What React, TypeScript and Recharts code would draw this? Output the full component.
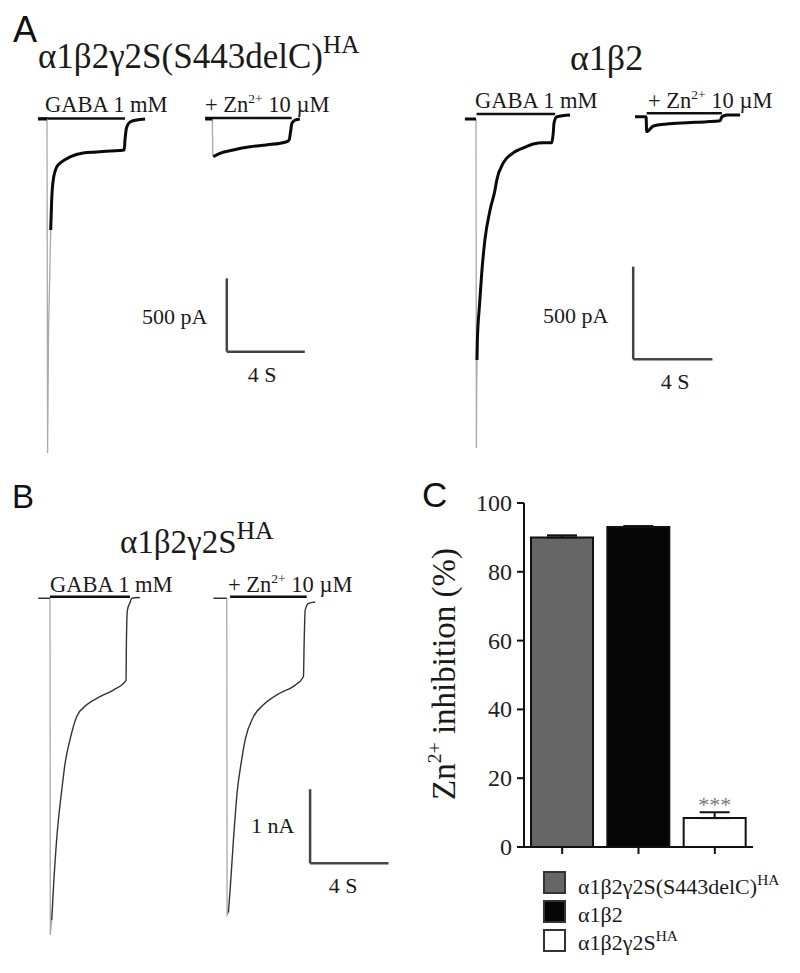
import React from "react";
import {
  LineChart,
  Line,
  XAxis,
  YAxis,
  ReferenceLine,
  BarChart,
  Bar,
  Cell,
  ErrorBar,
  LabelList,
} from "recharts";

const SERIF = '"Liberation Serif", "Times New Roman", serif';
const SANS = '"Liberation Sans", Arial, sans-serif';

// ---------- traces: t = seconds from agonist onset, i = current from baseline ----------
// panel A, α1β2γ2S(S443delC)HA (pA)
const delcGabaFast = [
  { t: 0, i: 0 }, { t: 0.03, i: -2278 }, { t: 0.08, i: -1440 }, { t: 0.19, i: -757 },
];
const delcGaba = [
  { t: -0.46, i: 0 }, { t: 0, i: 0 }, { t: 0.1, i: null }, { t: 0.19, i: -757 },
  { t: 0.24, i: -552 }, { t: 0.32, i: -416 }, { t: 0.5, i: -327 }, { t: 0.75, i: -293 },
  { t: 1.18, i: -259 }, { t: 1.85, i: -232 }, { t: 2.55, i: -225 }, { t: 3.23, i: -218 },
  { t: 3.96, i: -211 }, { t: 4.0, i: -143 }, { t: 4.09, i: -55 }, { t: 4.26, i: -20 },
  { t: 4.6, i: -7 }, { t: 5.03, i: 0 },
];
const delcZnFast = [{ t: 0, i: 0 }, { t: 0.02, i: -246 }, { t: 0.05, i: -257 }];
const delcZn = [
  { t: -0.37, i: 0 }, { t: 0, i: 0 }, { t: 0.01, i: null }, { t: 0.05, i: -257 },
  { t: 0.39, i: -234 }, { t: 1.07, i: -211 }, { t: 1.93, i: -189 }, { t: 2.78, i: -177 },
  { t: 3.81, i: -155 }, { t: 3.94, i: -143 }, { t: 4.01, i: -87 }, { t: 4.08, i: -29 },
  { t: 4.24, i: -7 }, { t: 4.49, i: 0 },
];

// panel A, α1β2 (pA)
const abGabaFast = [{ t: 0, i: 0 }, { t: 0.02, i: -1774 }, { t: 0.03, i: -1516 }, { t: 0.05, i: -1300 }];
const abGaba = [
  { t: -0.56, i: 0 }, { t: 0, i: 0 }, { t: 0.01, i: null }, { t: 0.05, i: -1300 },
  { t: 0.07, i: -1192 }, { t: 0.17, i: -1014 }, { t: 0.29, i: -830 }, { t: 0.45, i: -652 },
  { t: 0.71, i: -491 }, { t: 0.96, i: -383 }, { t: 1.05, i: -329 }, { t: 1.38, i: -237 },
  { t: 1.88, i: -183 }, { t: 2.39, i: -156 }, { t: 2.89, i: -135 }, { t: 3.4, i: -128 },
  { t: 3.82, i: -128 }, { t: 3.9, i: -77 }, { t: 3.94, i: -22 }, { t: 4.08, i: 12 }, { t: 4.75, i: 22 },
];
const abZn = [
  { t: -0.56, i: 12 }, { t: 0, i: 12 }, { t: 0.03, i: -68 }, { t: 0.37, i: -38 },
  { t: 1.04, i: -27 }, { t: 2.06, i: -20 }, { t: 3.07, i: -15 }, { t: 3.74, i: -9 },
  { t: 3.83, i: 12 }, { t: 4.08, i: 22 }, { t: 4.75, i: 22 },
];

// panel B, α1β2γ2SHA (nA)
const wtGabaFast = [{ t: 0, i: 0 }, { t: 0.015, i: -4.55 }, { t: 0.087, i: -4.35 }];
const wtGaba = [
  { t: -0.6, i: 0 }, { t: 0, i: 0 }, { t: 0.01, i: null }, { t: 0.087, i: -4.35 },
  { t: 0.17, i: -3.94 }, { t: 0.34, i: -3.26 }, { t: 0.6, i: -2.59 }, { t: 0.77, i: -2.23 },
  { t: 1.02, i: -1.91 }, { t: 1.36, i: -1.6 }, { t: 1.87, i: -1.44 }, { t: 2.55, i: -1.33 },
  { t: 3.23, i: -1.24 }, { t: 3.88, i: -1.11 }, { t: 3.9, i: -0.56 }, { t: 3.95, i: -0.16 },
  { t: 4.08, i: -0.06 }, { t: 4.17, i: 0 }, { t: 4.59, i: 0.01 },
];
const wtZnFast = [{ t: 0, i: 0 }, { t: 0.015, i: -4.28 }, { t: 0.08, i: -4.25 }];
const wtZn = [
  { t: -0.68, i: 0 }, { t: 0, i: 0 }, { t: 0.01, i: null }, { t: 0.08, i: -4.25 },
  { t: 0.17, i: -3.94 }, { t: 0.34, i: -3.26 }, { t: 0.54, i: -2.59 }, { t: 0.73, i: -2.23 },
  { t: 0.94, i: -1.91 }, { t: 1.36, i: -1.6 }, { t: 1.87, i: -1.44 }, { t: 2.72, i: -1.28 },
  { t: 3.4, i: -1.19 }, { t: 3.91, i: -1.06 }, { t: 3.95, i: -0.56 }, { t: 4.0, i: -0.16 },
  { t: 4.17, i: -0.07 }, { t: 4.51, i: -0.05 },
];

// drug application bars [start, end, level]
const delcApps = [[-0.46, 4.0, 3], [-0.37, 4.07, 7]];
const abApps = [[0.03, 4.0, 27], [0.03, 3.83, 31]];
const wtApps = [[0, 4.08, 0.02], [0.17, 4.08, 0.02]];

// ---------- panel C ----------
const genotypes = ["α1β2γ2S(S443delC)^HA", "α1β2", "α1β2γ2S^HA"];
const inhibition = [90.0, 93.0, 8.4];
const sem = [0.6, 0.3, 1.7];
const significance = ["", "", "***"];
const barFills = ["#666666", "#050505", "#ffffff"];
const yTicks = [0, 20, 40, 60, 80, 100];

const barData = genotypes.map((g, k) => ({
  name: g,
  value: inhibition[k],
  err: [0, sem[k]],
  sig: significance[k],
}));

function SupText({ x, y, text, size, anchor = "start", fill = "#1a1a1a", family = SERIF, supScale = 0.6, rise = 0.42, ...rest }) {
  const parts = text.split("^");
  const r = size * rise;
  return (
    <text x={x} y={y} fontSize={size} fontFamily={family} textAnchor={anchor} fill={fill} {...rest}>
      {parts.map((p, k) =>
        k % 2 === 1 ? (
          <tspan key={k} dy={-r} fontSize={size * supScale}>{p}</tspan>
        ) : (
          <tspan key={k} dy={k > 0 ? r : 0}>{p}</tspan>
        )
      )}
    </text>
  );
}

function YTick({ x, y, payload }) {
  return (
    <text x={x} y={y} dy={8} textAnchor="end" fontSize={24} fontFamily={SERIF} fill="#222">
      {payload.value}
    </text>
  );
}

function TracePanel({ box, x0, y0, pxPerSec, pxPerUnit, znOffset, traces, apps, scaleBar, thick }) {
  const xDomain = [(box.left - x0) / pxPerSec, (box.left + box.width - x0) / pxPerSec];
  const yDomain = [-(box.top + box.height - y0) / pxPerUnit, (y0 - box.top) / pxPerUnit];
  const shift = (arr, off) => arr.map((p) => ({ t: p.t + off, i: p.i }));
  const offsets = [0, znOffset];
  return (
    <div style={{ position: "absolute", left: box.left, top: box.top }}>
      <LineChart width={box.width} height={box.height} margin={{ top: 0, right: 0, bottom: 0, left: 0 }}>
        <XAxis dataKey="t" type="number" domain={xDomain} allowDataOverflow hide />
        <YAxis type="number" domain={yDomain} allowDataOverflow hide />
        {apps.map((a, k) => (
          <ReferenceLine
            key={"app" + k}
            segment={[{ x: a[0] + offsets[k], y: a[2] }, { x: a[1] + offsets[k], y: a[2] }]}
            stroke="#111"
            strokeWidth={2.5}
            ifOverflow="visible"
          />
        ))}
        {traces.map((tr, k) =>
          tr.fast ? (
            <Line
              key={"f" + k}
              data={shift(tr.fast, offsets[tr.slot])}
              dataKey="i"
              type="linear"
              dot={false}
              stroke="#a9a9a9"
              strokeWidth={1.3}
              isAnimationActive={false}
            />
          ) : null
        )}
        {traces.map((tr, k) => (
          <Line
            key={"s" + k}
            data={shift(tr.slow, offsets[tr.slot])}
            dataKey="i"
            type="monotoneX"
            dot={false}
            stroke={thick ? "#0a0a0a" : "#333"}
            strokeWidth={thick ? 3 : 1.4}
            isAnimationActive={false}
          />
        ))}
        <ReferenceLine
          segment={[{ x: scaleBar.t, y: scaleBar.i }, { x: scaleBar.t, y: scaleBar.i + scaleBar.di }]}
          stroke="#444"
          strokeWidth={2.5}
          ifOverflow="visible"
        />
        <ReferenceLine
          segment={[{ x: scaleBar.t, y: scaleBar.i }, { x: scaleBar.t + scaleBar.dt, y: scaleBar.i }]}
          stroke="#444"
          strokeWidth={2.5}
          ifOverflow="visible"
        />
      </LineChart>
    </div>
  );
}

export default function App() {
  return (
    <div style={{ position: "absolute", left: 0, top: 0, width: 800, height: 973, background: "#fff", overflow: "hidden" }}>
      <TracePanel
        box={{ left: 30, top: 95, width: 290, height: 380 }}
        x0={47}
        y0={119}
        pxPerSec={19.5}
        pxPerUnit={0.1466}
        znOffset={8.48}
        thick
        traces={[
          { fast: delcGabaFast, slow: delcGaba, slot: 0 },
          { fast: delcZnFast, slow: delcZn, slot: 1 },
        ]}
        apps={delcApps}
        scaleBar={{ t: 9.22, i: -1587, dt: 4, di: 500 }}
      />
      <TracePanel
        box={{ left: 455, top: 95, width: 300, height: 370 }}
        x0={476}
        y0={119}
        pxPerSec={19.8}
        pxPerUnit={0.1854}
        znOffset={8.59}
        thick
        traces={[
          { fast: abGabaFast, slow: abGaba, slot: 0 },
          { slow: abZn, slot: 1 },
        ]}
        apps={abApps}
        scaleBar={{ t: 7.94, i: -1296, dt: 4, di: 500 }}
      />
      <TracePanel
        box={{ left: 30, top: 580, width: 370, height: 385 }}
        x0={50}
        y0={598.3}
        pxPerSec={19.6}
        pxPerUnit={74}
        znOffset={9.02}
        traces={[
          { fast: wtGabaFast, slow: wtGaba, slot: 0 },
          { fast: wtZnFast, slow: wtZn, slot: 1 },
        ]}
        apps={wtApps}
        scaleBar={{ t: 13.27, i: -3.58, dt: 4, di: 1 }}
      />

      <div style={{ position: "absolute", left: 380, top: 470 }}>
        <BarChart width={420} height={420} data={barData} margin={{ top: 33, right: 47, bottom: 23, left: 84 }}>
          <XAxis
            dataKey="name"
            tickFormatter={() => ""}
            tickSize={7}
            height={20}
            axisLine={{ stroke: "#111", strokeWidth: 2 }}
            tickLine={{ stroke: "#111", strokeWidth: 2 }}
          />
          <YAxis
            domain={[0, 100]}
            ticks={yTicks}
            allowDataOverflow
            width={60}
            tickSize={7}
            tickMargin={5}
            axisLine={{ stroke: "#111", strokeWidth: 2 }}
            tickLine={{ stroke: "#111", strokeWidth: 2 }}
            tick={YTick}
          />
          <Bar dataKey="value" barSize={62} stroke="#111" strokeWidth={2} isAnimationActive={false}>
            {barData.map((d, k) => (
              <Cell key={k} fill={barFills[k]} />
            ))}
            <ErrorBar dataKey="err" direction="y" width={15} stroke="#111" strokeWidth={2} />
            <LabelList dataKey="sig" position="top" offset={6} fill="#777" fontSize={22} fontFamily={SERIF} />
          </Bar>
        </BarChart>
      </div>

      <svg width={800} height={973} style={{ position: "absolute", left: 0, top: 0, pointerEvents: "none" }}>
        <text x={13} y={42} fontSize={36} fontFamily={SANS} fill="#111">A</text>
        <text x={12} y={508} fontSize={33} fontFamily={SANS} fill="#111">B</text>
        <text x={422} y={507} fontSize={35} fontFamily={SANS} fill="#111">C</text>

        <SupText x={38} y={68} size={35} supScale={0.72} text="α1β2γ2S(S443delC)^HA" />
        <SupText x={570} y={70} size={36} text="α1β2" />
        <SupText x={120} y={553} size={33} supScale={0.78} text="α1β2γ2S^HA" />

        <SupText x={45} y={112} size={22.5} text="GABA 1 mM" />
        <SupText x={205} y={112} size={22.5} text="+ Zn^2+^ 10 µM" />
        <SupText x={475} y={108} size={22.5} text="GABA 1 mM" />
        <SupText x={648} y={108} size={22.5} text="+ Zn^2+^ 10 µM" />
        <SupText x={50} y={592} size={22.5} text="GABA 1 mM" />
        <SupText x={228} y={592} size={22.5} text="+ Zn^2+^ 10 µM" />

        <SupText x={142} y={324} size={22} text="500 pA" />
        <SupText x={262} y={382} size={22} anchor="middle" text="4 S" />
        <SupText x={543} y={323} size={22} text="500 pA" />
        <SupText x={675} y={389} size={22} anchor="middle" text="4 S" />
        <SupText x={251} y={833} size={22} text="1 nA" />
        <SupText x={343} y={893} size={22} anchor="middle" text="4 S" />

        <SupText
          x={455}
          y={674}
          size={33}
          anchor="middle"
          transform="rotate(-90 455 674)"
          text="Zn^2+^ inhibition (%)"
        />

        {genotypes.map((g, k) => (
          <g key={g}>
            <rect x={544} y={872 + k * 29} width={21} height={21} fill={barFills[k]} stroke="#333" strokeWidth={2} />
            <SupText x={578} y={894 + k * 28} size={22} supScale={0.7} text={g} />
          </g>
        ))}
      </svg>
    </div>
  );
}
